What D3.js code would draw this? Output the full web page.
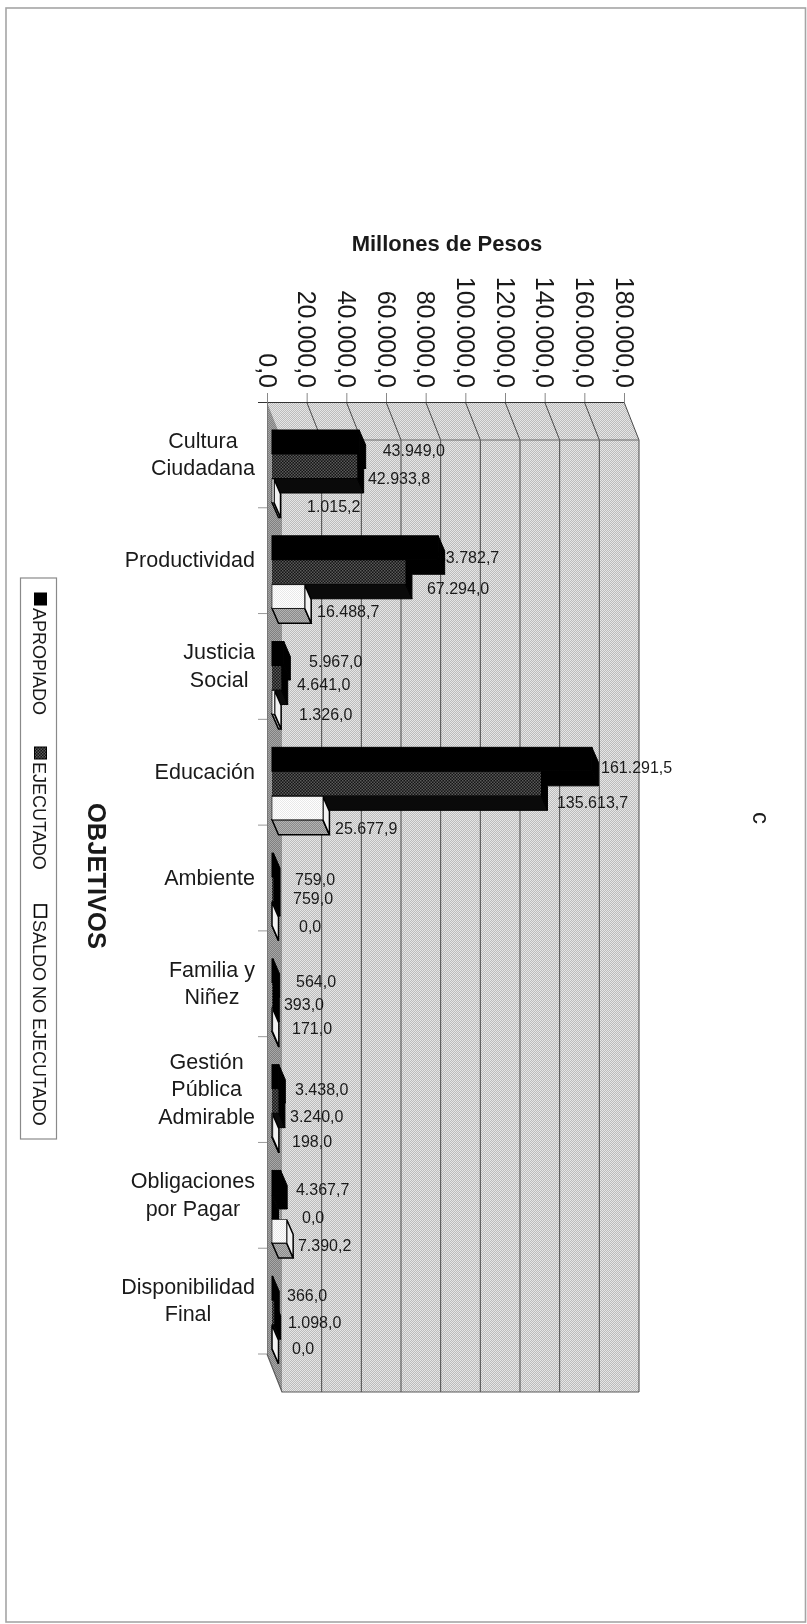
<!DOCTYPE html>
<html><head><meta charset="utf-8">
<script src="https://cdn.jsdelivr.net/npm/d3@7"></script>
<style>html,body{margin:0;padding:0;background:#fff}svg{display:block;filter:blur(0.4px)}text{font-family:"Liberation Sans",Arial,sans-serif;fill:#1a1a1a}</style>
</head><body><div id="chart"></div>
<script>
const categories = [["Cultura","Ciudadana"],["Productividad"],["Justicia","Social"],["Educación"],["Ambiente"],["Familia y","Niñez"],["Gestión","Pública","Admirable"],["Obligaciones","por Pagar"],["Disponibilidad","Final"]];
const seriesNames = ["APROPIADO","EJECUTADO","SALDO NO EJECUTADO"];
const apropiado = [43949.0,83782.7,5967.0,161291.5,759.0,564.0,3438.0,4367.7,366.0];
const ejecutado = [42933.8,67294.0,4641.0,135613.7,759.0,393.0,3240.0,0.0,1098.0];
const saldo = [1015.2,16488.7,1326.0,25677.9,0.0,171.0,198.0,7390.2,0.0];
const axisTicks = [0,20000,40000,60000,80000,100000,120000,140000,160000,180000];
// hand-placed data label offsets of the original, relative to each bar's end and row
const labelDx = [[23.5,10.8,33],[-1.2,21.5,12.3],[25.2,15.8,24.4],[9.1,16,12.1],[21.5,19.5,27],[22.9,11.2,19.7],[16.2,11.6,19.6],[15.3,30,11.3],[14.3,13.8,20]];
const labelDy = [[20,23.5,27],[21.2,27.7,26.2],[19.4,17.9,23.4],[19.7,30.2,31.7],[25.9,20.4,23.9],[22.1,20.6,20.1],[24.3,26.8,27.3],[18.6,22.1,25.6],[18.8,21.3,22.8]];

const W=807,H=1624;
const svg=d3.select("#chart").append("svg").attr("width",W).attr("height",H);
const defs=svg.append("defs");
function dither(id,a,b,size){
  const p=defs.append("pattern").attr("id",id).attr("width",size).attr("height",size).attr("patternUnits","userSpaceOnUse");
  p.append("rect").attr("width",size).attr("height",size).attr("fill",a);
  p.append("rect").attr("width",size/2).attr("height",size/2).attr("fill",b);
  p.append("rect").attr("x",size/2).attr("y",size/2).attr("width",size/2).attr("height",size/2).attr("fill",b);
}
dither("wall","#bcbcbc","#e6e6e6",2);
dither("side","#7f7f7f","#a8a8a8",2);
dither("exec","#141414","#5a5a5a",3);
dither("whiteF","#ffffff","#e8e8e8",2);
dither("greyF","#8a8a8a","#b4b4b4",2);

const fmt=d3.formatLocale({decimal:",",thousands:".",grouping:[3],currency:["",""]}).format(",.1f");

svg.append("rect").attr("x",6).attr("y",8).attr("width",799.5).attr("height",1614).attr("fill","none").attr("stroke","#a5a5a5").attr("stroke-width",1.6);

// geometry
const backX=267, backTop=402, backBottom=1354, depthX=15, depthY=38;
const x=d3.scaleLinear().domain([0,180000]).range([backX,backX+357]);
const y=d3.scaleBand().domain(categories.map((c,i)=>i)).range([backTop,backBottom]);
const barX=d3.scaleLinear().domain([0,180000]).range([272,629]);
const rowH=24.5, rowStart=28, barDx=6.5, barDy=15, faceH=23.5;

const chart=svg.append("g");
const poly=(pts)=>d3.line()(pts)+"Z";
// walls
chart.append("path").attr("d",poly([[backX,backTop],[x(180000),backTop],[x(180000)+depthX,backTop+depthY],[backX+depthX,backTop+depthY]])).attr("fill","url(#wall)");
chart.append("path").attr("d",poly([[backX,backTop],[backX+depthX,backTop+depthY],[backX+depthX,backBottom+depthY],[backX,backBottom]])).attr("fill","url(#side)");
chart.append("rect").attr("x",backX+depthX).attr("y",backTop+depthY).attr("width",357).attr("height",backBottom-backTop).attr("fill","url(#wall)");
// gridlines
chart.selectAll(".g1").data(axisTicks.slice(1)).join("path").attr("fill","none").attr("stroke","#4a4a4a").attr("stroke-width",1)
  .attr("d",d=>d3.line()([[x(d),backTop],[x(d)+depthX,backTop+depthY],[x(d)+depthX,backBottom+depthY]]));
chart.append("path").attr("fill","none").attr("stroke","#6a6a6a").attr("stroke-width",1)
  .attr("d",d3.line()([[backX+depthX,backTop+depthY],[x(180000)+depthX,backTop+depthY]]));
chart.append("path").attr("fill","none").attr("stroke","#5a5a5a").attr("stroke-width",1.2)
  .attr("d",d3.line()([[backX,backBottom],[backX+depthX,backBottom+depthY],[x(180000)+depthX,backBottom+depthY]]));

// value axis
const ax=chart.append("g").attr("transform",`translate(0,${backTop})`)
  .call(d3.axisTop(x).tickValues(axisTicks).tickFormat(fmt).tickSize(9).tickSizeOuter(0));
ax.select(".domain").attr("stroke","#333").attr("d",`M${backX-9},0.5H${x(180000)}`);
ax.selectAll(".tick line").attr("stroke","#888");
ax.selectAll(".tick text").attr("transform","translate(-9,-14) rotate(90)").attr("y",0).attr("dy",0).attr("text-anchor","end")
  .style("font-size","25px").style("font-family",'"Liberation Sans"');

// category axis
const catAxis=chart.append("g").attr("transform",`translate(${backX},0)`)
  .call(d3.axisLeft(y).tickValues([]).tickSize(0));
catAxis.select(".domain").attr("stroke","#777").attr("d",`M0.5,${backTop}V${backBottom}`);
catAxis.selectAll(".t").data(categories).join("line").attr("x1",-9).attr("x2",0)
  .attr("y1",(d,i)=>y(i)+y.step()).attr("y2",(d,i)=>y(i)+y.step()).attr("stroke","#999");
categories.forEach((lines,i)=>{
  const g=chart.append("g");
  const ts=lines.map((s,j)=>g.append("text").text(s).attr("text-anchor","middle").style("font-size","21.5px")
    .attr("y",y(i)+y.step()/2+(j-(lines.length-1)/2)*27.5+6.5));
  const maxW=d3.max(ts,t=>t.node().getComputedTextLength());
  ts.forEach(t=>t.attr("x",255-maxW/2));
});

// data labels lie under the bars, as in the original
const seriesValues=[apropiado,ejecutado,saldo];
const rowY=(c,s)=>y(c)+rowStart+rowH*s;
seriesValues.forEach((vals,s)=>{
  chart.append("g").selectAll("text").data(vals).join("text")
    .attr("x",(v,c)=>barX(v)+labelDx[c][s]).attr("y",(v,c)=>rowY(c,s)+labelDy[c][s]).attr("dy","0.35em")
    .style("font-size","16px").attr("fill","#222").text(v=>fmt(v));
});

// 3D bars
const styles=[
 {front:"#000",bottom:"#000",side:"#000",stroke:"#000",sw:1},
 {front:"url(#exec)",bottom:"#0a0a0a",side:"#000",stroke:"#000",sw:1},
 {front:"url(#whiteF)",bottom:"url(#greyF)",side:"#f2f2f2",stroke:"#000",sw:1.5}
];
categories.forEach((_,c)=>{
  seriesValues.forEach((vals,s)=>{
    const st=styles[s], g=chart.append("g");
    const x0=barX(0), x1=barX(vals[c]), t=rowY(c,s), b=t+faceH;
    g.append("path").attr("d",poly([[x0,b],[x1,b],[x1+barDx,b+barDy],[x0+barDx,b+barDy]])).attr("fill",st.bottom).attr("stroke",st.stroke).attr("stroke-width",st.sw);
    g.append("path").attr("d",poly([[x1,t],[x1+barDx,t+barDy],[x1+barDx,b+barDy],[x1,b]])).attr("fill",st.side).attr("stroke",st.stroke).attr("stroke-width",st.sw);
    g.append("rect").attr("x",x0).attr("y",t).attr("width",x1-x0).attr("height",faceH).attr("fill",st.front).attr("stroke",s===1?"none":st.stroke).attr("stroke-width",s===2?0.6:st.sw);
  });
});

// titles
svg.append("text").attr("x",447).attr("y",251).attr("text-anchor","middle").style("font-size","22px").style("font-weight","700").text("Millones de Pesos");
svg.append("text").attr("transform","translate(88,803) rotate(90)").style("font-size","25.5px").style("font-weight","700").text("OBJETIVOS");
svg.append("text").attr("transform","translate(753,812) rotate(90)").style("font-size","24px").text("c");

// legend
svg.append("rect").attr("x",20.5).attr("y",578).attr("width",36).attr("height",561).attr("fill","#fff").attr("stroke","#8a8a8a").attr("stroke-width",1.2);
const legMarkY=[593,747,905], legFill=["#000","url(#exec)","#fff"];
seriesNames.forEach((n,i)=>{
  svg.append("rect").attr("x",34.5).attr("y",legMarkY[i]).attr("width",12).attr("height",12).attr("fill",legFill[i]).attr("stroke","#000").attr("stroke-width",i==2?1.6:1);
  svg.append("text").attr("transform",`translate(33,${legMarkY[i]+15}) rotate(90)`).style("font-size","18px").text(n);
});
</script></body></html>
